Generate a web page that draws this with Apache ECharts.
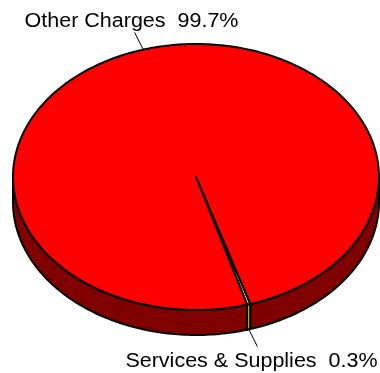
<!DOCTYPE html>
<html>
<head>
<meta charset="utf-8">
<script src="https://cdn.jsdelivr.net/npm/echarts@6/dist/echarts.min.js"></script>
<style>
  html, body { margin: 0; padding: 0; background: #fff; }
  #chart { width: 380px; height: 373px; }
</style>
</head>
<body>
<div id="chart"></div>
<script>
// Slice data
const categories = ['Services & Supplies', 'Other Charges'];
const values = [0.3, 99.7];
const percentLabels = ['0.3%', '99.7%'];

// Colours per slice: top face and side wall
const topColors = ['#FFFF00', '#FF0000'];
const sideColors = ['#E0E000', '#800000'];

// Projected disc geometry (pixels)
const CX = 196, CY = 177, RX = 183, RY = 133, DEPTH = 25;
// Angle (degrees, clockwise from 12 o'clock) where the first slice begins
const START = 162.7;

const total = values.reduce((s, v) => s + v, 0);

function pt(deg, dy) {
  const r = deg * Math.PI / 180;
  return [CX + RX * Math.sin(r), CY - RY * Math.cos(r) + dy];
}

function arc(from, to, dy) {
  const pts = [];
  const n = Math.max(2, Math.ceil(Math.abs(to - from)));
  for (let k = 0; k <= n; k++) pts.push(pt(from + (to - from) * k / n, dy));
  return pts;
}

function renderItem(params, api) {
  const i = params.dataIndex;
  let before = 0;
  for (let j = 0; j < i; j++) before += values[j];
  const a0 = START + before / total * 360;
  const a1 = a0 + api.value(0) / total * 360;
  const children = [];
  const edge = { stroke: '#000', lineWidth: 2, lineJoin: 'round' };

  // Side wall: only the front half of the rim (90..270 deg) is visible
  for (let k = -1; k <= 2; k++) {
    const s = Math.max(a0, 90 + 360 * k);
    const e = Math.min(a1, 270 + 360 * k);
    if (e > s) {
      const pts = arc(s, e, 0).concat(arc(e, s, DEPTH));
      children.push({
        type: 'polygon', z2: 1,
        shape: { points: pts },
        style: Object.assign({ fill: sideColors[i] }, edge)
      });
    }
  }

  // Top face
  children.push({
    type: 'polygon', z2: 5,
    shape: { points: [[CX, CY]].concat(arc(a0, a1, 0)) },
    style: Object.assign({ fill: topColors[i] }, edge)
  });

  // Leader line and label
  const mid = (a0 + a1) / 2;
  const mr = mid * Math.PI / 180;
  const front = Math.cos(mr) < 0;
  const p0 = pt(mid, front ? DEPTH : 0);
  const p1 = [p0[0] + Math.sin(mr) * 30, p0[1] - Math.cos(mr) * 18];
  children.push({
    type: 'polyline', z2: 8,
    shape: { points: [p0, p1] },
    style: { stroke: '#000', lineWidth: 1, fill: null }
  });
  children.push({
    type: 'text', z2: 9,
    x: p1[0] - 4.5 - Math.sin(mr) * 5,
    y: front ? p1[1] + 5 : p1[1] - 1,
    scaleX: 1.075,
    style: {
      text: categories[i] + '  ' + percentLabels[i],
      x: 0,
      y: 0,
      align: 'center',
      verticalAlign: front ? 'top' : 'bottom',
      fill: '#000',
      fontSize: 20,
      fontFamily: 'Liberation Sans, Arial, sans-serif'
    }
  });

  return { type: 'group', children: children };
}

const chart = echarts.init(document.getElementById('chart'), null, { renderer: 'canvas' });
chart.setOption({
  animation: false,
  series: [{
    type: 'custom',
    coordinateSystem: 'none',
    renderItem: renderItem,
    data: values.map((v, i) => ({ name: categories[i], value: [v] }))
  }]
});
</script>
</body>
</html>
